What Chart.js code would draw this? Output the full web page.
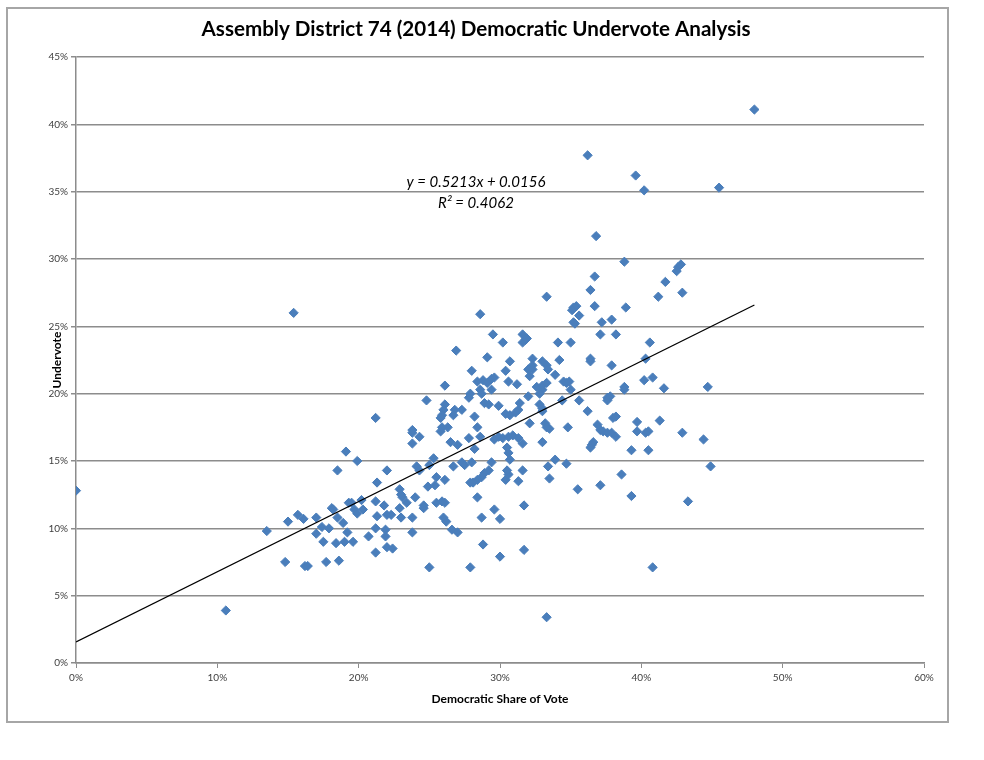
<!DOCTYPE html>
<html>
<head>
<meta charset="utf-8">
<script src="https://cdn.jsdelivr.net/npm/chart.js@4/dist/chart.umd.min.js"></script>
<style>
  html, body { margin: 0; padding: 0; background: #fff; }
  #wrap { width: 984px; height: 760px; position: relative; }
</style>
</head>
<body>
<div id="wrap"><canvas id="c" width="984" height="760"></canvas></div>
<script>
// ---------- data (percent units) ----------
const chartTitle = 'Assembly District 74 (2014) Democratic Undervote Analysis';
const xAxisTitle = 'Democratic Share of Vote';
const yAxisTitle = 'Undervote';
const xTicks = [0, 10, 20, 30, 40, 50, 60];
const yTicks = [0, 5, 10, 15, 20, 25, 30, 35, 40, 45];
const trendSlope = 0.5213;
const trendIntercept = 1.56; // 0.0156 in percent units
const trendLabel = ['y = 0.5213x + 0.0156', 'R\u00B2 = 0.4062'];

const demShare = [
  0, 10.6, 13.5, 15.4, 15.0, 15.7, 16.1, 14.8, 16.2, 16.4,
  17.0, 17.4, 17.9, 17.0, 17.5, 18.4, 19.0, 19.6, 17.7, 18.6,
  18.1, 18.2, 18.5, 18.9, 19.2, 18.5, 19.1, 19.3, 19.9, 19.5,
  19.7, 20.2, 19.9, 20.3, 20.7, 21.2, 21.3, 22.0, 21.2, 21.8,
  21.3, 22.0, 22.3, 21.2, 21.9, 21.9, 22.0, 22.4, 21.2, 22.9, 22.9,
  24.8, 23.8, 23.8, 23.8, 24.3, 24.1, 24.3, 25.3, 24.9, 25.4,
  23.0, 23.1, 23.4, 24.0, 24.6, 25.5, 23.0, 23.8, 24.6, 23.8, 25.0,
  28.6, 29.5, 30.2, 31.6, 31.8, 31.6, 31.9, 26.9, 29.1, 30.7,
  32.3, 32.3, 32.0, 32.3, 28.0, 30.4, 32.1,
  28.4, 28.8, 29.1, 29.4, 29.6, 30.6, 31.2, 26.1, 28.6, 28.7, 29.4, 27.9, 27.8, 32.6, 32.0,
  26.1, 26.0, 25.9, 25.8, 26.8, 26.7, 27.3, 28.9, 29.2, 29.9,
  30.4, 30.7, 31.1, 31.3, 31.4, 32.1, 28.2,
  26.3, 25.9, 25.8, 28.4, 28.6, 27.8, 26.5, 27.0,
  29.6, 29.9, 30.2, 30.6, 30.9, 31.3, 31.6,
  30.5, 30.6, 30.7, 28.2, 25.0,
  27.3, 27.5, 28.0, 26.7, 29.4,
  29.2, 28.9, 28.7, 28.4, 28.1, 27.9, 25.5, 26.1, 30.4, 30.6, 30.5, 31.3, 31.6,
  25.9, 26.1, 28.4, 29.6, 30.0, 28.7, 31.7, 26.0, 26.2,
  26.6, 27.0, 28.8, 30.0, 31.7, 27.9,
  33.3, 36.4, 35.2, 35.4, 35.1, 35.6, 36.7, 38.9, 35.2, 35.3, 37.2, 37.9, 37.1, 38.2, 34.1, 35.0,
  33.0, 33.3, 33.4, 34.2, 33.9, 36.4, 36.4, 37.9,
  34.5, 34.7, 34.9, 35.0, 33.0, 33.0, 33.3, 32.8,
  35.6, 34.4, 32.8, 33.0, 33.0, 36.2, 37.6, 37.8, 37.6, 38.8, 38.8,
  33.2, 33.3, 33.5, 34.8, 36.9, 37.1, 37.3, 37.6, 37.9, 38.2, 38.0, 38.2, 39.7, 39.7,
  33.0, 36.6, 36.5, 36.4, 39.3, 33.4, 33.9, 33.5, 34.7, 35.5, 37.1, 38.6, 39.3,
  36.2, 39.6, 40.2, 45.5, 36.8, 38.8, 42.5, 42.6, 42.8, 41.7, 36.7, 41.2, 42.9,
  40.6, 40.3, 40.2, 40.8, 41.6, 44.7, 41.3, 40.3, 40.5, 42.9, 44.4, 40.5, 44.9, 43.3, 40.8,
  48.0, 33.3
];
const undervote = [
  12.8, 3.9, 9.8, 26.0, 10.5, 11.0, 10.7, 7.5, 7.2, 7.2,
  10.8, 10.1, 10.0, 9.6, 9.0, 8.9, 9.0, 9.0, 7.5, 7.6,
  11.5, 11.4, 10.8, 10.4, 9.7, 14.3, 15.7, 11.9, 15.0, 11.9,
  11.4, 12.1, 11.1, 11.4, 9.4, 18.2, 13.4, 14.3, 12.0, 11.7,
  10.9, 11.0, 11.0, 10.0, 9.9, 9.4, 8.6, 8.5, 8.2, 12.9, 11.5,
  19.5, 17.1, 17.3, 16.3, 16.8, 14.6, 14.3, 15.2, 13.1, 13.2,
  12.5, 12.3, 11.9, 12.3, 11.7, 11.9, 10.8, 10.8, 11.5, 9.7, 7.1,
  25.9, 24.4, 23.8, 24.4, 24.0, 23.8, 24.1, 23.2, 22.7, 22.4,
  22.6, 22.1, 21.8, 21.8, 21.7, 21.7, 21.3,
  20.9, 21.0, 20.8, 21.1, 21.2, 20.9, 20.7, 20.6, 20.3, 20.0, 20.3, 20.0, 19.7, 20.5, 19.8,
  19.2, 18.8, 18.4, 18.2, 18.8, 18.4, 18.8, 19.3, 19.2, 19.1,
  18.5, 18.4, 18.6, 18.8, 19.3, 17.8, 18.3,
  17.5, 17.5, 17.2, 17.5, 16.8, 16.7, 16.4, 16.2,
  16.6, 16.8, 16.7, 16.8, 16.9, 16.7, 16.3,
  16.0, 15.6, 15.1, 15.9, 14.7,
  14.9, 14.7, 14.9, 14.6, 14.9,
  14.3, 14.1, 13.8, 13.6, 13.4, 13.4, 13.8, 13.6, 13.6, 14.0, 14.3, 13.5, 14.3,
  12.0, 11.9, 12.3, 11.4, 10.7, 10.8, 11.7, 10.8, 10.5,
  9.9, 9.7, 8.8, 7.9, 8.4, 7.1,
  27.2, 27.7, 26.4, 26.5, 26.2, 25.8, 26.5, 26.4, 25.3, 25.2, 25.3, 25.5, 24.4, 24.4, 23.8, 23.8,
  22.4, 22.1, 21.8, 22.5, 21.4, 22.6, 22.4, 22.1,
  20.9, 20.8, 20.9, 20.3, 20.3, 20.6, 20.8, 20.0,
  19.5, 19.5, 19.2, 18.9, 18.7, 18.7, 19.7, 19.8, 19.5, 20.5, 20.3,
  17.8, 17.5, 17.4, 17.5, 17.7, 17.3, 17.2, 17.1, 17.1, 16.8, 18.2, 18.3, 17.9, 17.2,
  16.4, 16.4, 16.2, 16.0, 15.8, 14.6, 15.1, 13.7, 14.8, 12.9, 13.2, 14.0, 12.4,
  37.7, 36.2, 35.1, 35.3, 31.7, 29.8, 29.1, 29.4, 29.6, 28.3, 28.7, 27.2, 27.5,
  23.8, 22.6, 21.0, 21.2, 20.4, 20.5, 18.0, 17.1, 17.2, 17.1, 16.6, 15.8, 14.6, 12.0, 7.1,
  41.1, 3.4
];

// ---------- build ----------
const points = demShare.map((x, i) => ({ x: x, y: undervote[i] }));
const xMin = Math.min(...demShare), xMax = Math.max(...demShare);
const trendPoints = [
  { x: xMin, y: trendSlope * xMin + trendIntercept },
  { x: xMax, y: trendSlope * xMax + trendIntercept }
];

const FONT = "Lato, 'Open Sans', 'DejaVu Sans', sans-serif";
const GRID = '#8c8c8c';

const framePlugin = {
  id: 'frame',
  beforeDraw(chart) {
    const ctx = chart.ctx;
    ctx.save();
    ctx.fillStyle = '#fff';
    ctx.fillRect(0, 0, chart.width, chart.height);
    ctx.strokeStyle = '#a6a6a6';
    ctx.lineWidth = 2;
    ctx.strokeRect(7, 8, 941, 714);
    ctx.restore();
  }
};

const eqPlugin = {
  id: 'eq',
  afterDatasetsDraw(chart) {
    const ctx = chart.ctx;
    const xs = chart.scales.x, ys = chart.scales.y;
    const cx = xs.getPixelForValue(28.3);
    const cy = ys.getPixelForValue(35.7);
    ctx.save();
    ctx.fillStyle = '#000';
    ctx.font = "italic 15px " + FONT;
    ctx.textAlign = 'center';
    ctx.textBaseline = 'middle';
    ctx.fillText(trendLabel[0], cx, cy);
    ctx.fillText(trendLabel[1], cx, cy + 21);
    ctx.restore();
  }
};

new Chart(document.getElementById('c'), {
  type: 'scatter',
  data: {
    datasets: [
      {
        type: 'line',
        label: 'Trend',
        data: trendPoints,
        borderColor: '#000',
        borderWidth: 1.3,
        pointRadius: 0,
        fill: false,
        order: 0
      },
      {
        label: 'Undervote',
        data: points,
        pointStyle: 'rectRot',
        pointRadius: 4.6,
        pointBackgroundColor: '#4a7ebb',
        pointBorderColor: '#4a7ebb',
        pointBorderWidth: 1,
        order: 1
      }
    ]
  },
  options: {
    responsive: false,
    animation: false,
    devicePixelRatio: 1,
    layout: { padding: { left: 0, right: 32, top: 0, bottom: 54 } },
    plugins: {
      legend: { display: false },
      tooltip: { enabled: false },
      title: {
        display: true,
        text: chartTitle,
        color: '#000',
        font: { family: FONT, size: 20.6, weight: 'bold', lineHeight: 1.2 },
        padding: { top: 17, bottom: 15.3 }
      }
    },
    scales: {
      x: {
        type: 'linear',
        min: 0, max: 60,
        afterBuildTicks(scale) { scale.ticks = xTicks.map(v => ({ value: v })); },
        afterFit(scale) { scale.height = 43; },
        ticks: {
          callback: v => v + '%',
          color: '#404040',
          font: { family: FONT, size: 10 },
          padding: 4,
          maxRotation: 0
        },
        grid: { drawOnChartArea: false, drawTicks: true, tickLength: 5, color: GRID, lineWidth: 1 },
        border: { display: true, color: GRID, width: 1.5 },
        title: {
          display: true,
          text: xAxisTitle,
          color: '#000',
          font: { family: FONT, size: 12, weight: 'bold', lineHeight: 1.2 },
          padding: { top: 0, bottom: 0 }
        }
      },
      y: {
        type: 'linear',
        min: 0, max: 45,
        afterBuildTicks(scale) { scale.ticks = yTicks.map(v => ({ value: v })); },
        afterFit(scale) { scale.width = 76; },
        ticks: {
          callback: v => v + '%',
          color: '#404040',
          font: { family: FONT, size: 10 },
          padding: 3
        },
        grid: { drawOnChartArea: true, drawTicks: true, tickLength: 5, color: GRID, lineWidth: 1.5 },
        border: { display: true, color: GRID, width: 1.5 },
        title: {
          display: true,
          text: yAxisTitle,
          color: '#000',
          font: { family: FONT, size: 12, weight: 'bold', lineHeight: 1.2 },
          padding: { top: 50, bottom: 0 }
        }
      },
      spacer: {
        type: 'linear',
        position: 'right',
        display: true,
        min: 0, max: 1,
        afterFit(scale) { scale.width = 28; },
        ticks: { display: false },
        grid: { display: false },
        border: { display: false },
        title: { display: false }
      }
    }
  },
  plugins: [framePlugin, eqPlugin]
});
</script>
</body>
</html>
